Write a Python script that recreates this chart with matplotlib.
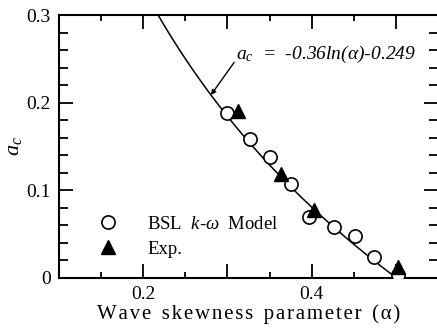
import matplotlib
matplotlib.use("Agg")
import matplotlib.pyplot as plt
import numpy as np
from matplotlib.lines import Line2D
from matplotlib.ticker import MultipleLocator, FixedLocator

# data
model_alpha = [0.300, 0.327, 0.350, 0.375, 0.397, 0.427, 0.451, 0.474, 0.502]
model_ac = [0.188, 0.159, 0.138, 0.107, 0.070, 0.0585, 0.048, 0.0236, 0.0034]

exp_alpha = [0.312, 0.363, 0.403, 0.502]
exp_ac = [0.190, 0.119, 0.078, 0.012]

# fitted curve a_c = A ln(alpha) + B, as printed on the chart
fit_a = -0.36
fit_b = -0.249
fit_range = [0.2177, 0.5007]

x_ticks = [0.1, 0.2, 0.3, 0.4, 0.5]
x_labels = ["", "0.2", "", "0.4", ""]
y_ticks = [0.0, 0.1, 0.2, 0.3]
y_labels = ["0", "0.1", "0.2", "0.3"]

plt.rcParams["font.family"] = ["Liberation Serif", "DejaVu Serif"]
plt.rcParams["mathtext.fontset"] = "custom"
plt.rcParams["mathtext.rm"] = "Liberation Serif"
plt.rcParams["mathtext.it"] = "Liberation Serif:italic"
plt.rcParams["mathtext.bf"] = "Liberation Serif:bold"


def spaced(text):
    # the original typesetting has wide letter spacing
    return "\u200a".join(text)


def draw(save_file):
    fig = plt.figure(figsize=(4.37, 3.29), dpi=100)
    ax = fig.add_axes([59 / 437, 1 - 278 / 329, 379 / 437, 263 / 329])

    alpha = np.linspace(fit_range[0], fit_range[1], 200)
    ax.plot(alpha, fit_a * np.log(alpha) + fit_b, color="black", lw=1.1, zorder=2)

    ax.plot(model_alpha, model_ac, "o", ms=9.5, mfc="white", mec="black",
            mew=1.2, zorder=3)
    ax.plot(exp_alpha, exp_ac, "^", ms=10, color="black", zorder=4)

    # leader arrow to the curve and equation text
    tip_x = 0.2804
    ax.annotate("", xy=(tip_x, fit_a * np.log(tip_x) + fit_b), xytext=(0.308, 0.246),
                arrowprops=dict(arrowstyle="-|>", color="black", lw=1.0,
                                mutation_scale=7, shrinkA=0, shrinkB=0))
    ax.text(0.3105, 0.255, r"$a_c$  =  -0.36ln($\alpha$)-0.249",
            fontsize=14, style="italic", va="center", ha="left")

    ax.set_xlim(0.1, 0.55)
    ax.set_ylim(0.0, 0.3)
    ax.xaxis.set_major_locator(FixedLocator(x_ticks))
    ax.set_xticklabels(x_labels)
    ax.xaxis.set_minor_locator(MultipleLocator(0.05))
    ax.set_yticks(y_ticks)
    ax.set_yticklabels(y_labels)
    ax.yaxis.set_minor_locator(MultipleLocator(0.02))

    ax.tick_params(axis="both", which="both", direction="in", top=True, right=True,
                   width=1.3, labelsize=14)
    ax.tick_params(axis="x", which="major", length=10, pad=6)
    ax.tick_params(axis="x", which="minor", length=4.5)
    ax.tick_params(axis="y", which="major", length=10, pad=6)
    ax.tick_params(axis="y", which="minor", length=6.5)
    for sp in ax.spines.values():
        sp.set_linewidth(1.5)

    xlabel = "  ".join(spaced(w) for w in ["Wave", "skewness", "parameter", "(\u03b1)"])
    ax.set_xlabel(xlabel, fontsize=15, labelpad=1)
    ax.set_ylabel(r"$a_c$", fontsize=16, labelpad=2)

    handles = [
        Line2D([], [], ls="none", marker="o", ms=9.5, mfc="white", mec="black", mew=1.2),
        Line2D([], [], ls="none", marker="^", ms=10, color="black"),
    ]
    ax.legend(handles, [r"BSL  $k$-$\omega$  Model", "Exp."], loc="upper left",
              bbox_to_anchor=(0.085, 0.265), frameon=False, fontsize=13.5,
              handlelength=1.0, handletextpad=1.6, labelspacing=0.4,
              borderaxespad=0)

    if save_file is not None:
        fig.savefig(save_file, dpi=100)


if __name__ == "__main__":
    draw("out.png")
